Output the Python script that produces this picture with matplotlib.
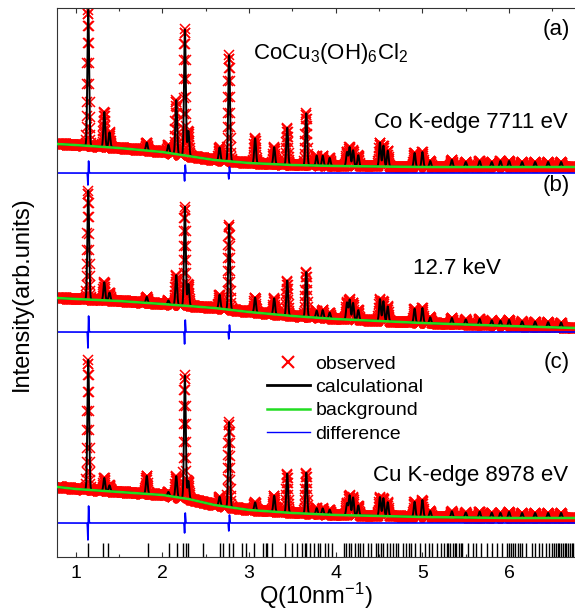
import numpy as np
import matplotlib
matplotlib.use("Agg")
import matplotlib.pyplot as plt
from matplotlib.lines import Line2D

plt.rcParams['font.family'] = ['Liberation Sans', 'DejaVu Sans']
plt.rcParams['mathtext.fontset'] = 'custom'
plt.rcParams['mathtext.rm'] = 'Liberation Sans'
plt.rcParams['mathtext.default'] = 'regular'

# background levels (arb. units) read at these Q values
q_bg = [0.79, 1.0, 1.5, 2.0, 2.3, 2.6, 3.0, 3.5, 4.0, 5.0, 6.0, 6.76]
bg_a = [413, 412, 409, 405, 401, 397, 394, 392, 391, 390, 390, 390]
bg_b = [259, 258, 256, 253, 251, 249, 245, 241, 238, 234, 231, 229]
bg_c = [70, 68, 65, 62, 58, 52, 47, 44, 42, 40, 39, 39]

# difference curve zero levels
diff0 = {'a': 384, 'b': 225, 'c': 34}

# peak positions and heights above background for each measurement
peak_q = [1.145, 1.33, 1.39, 1.82, 2.07, 2.16, 2.26, 2.30, 2.66, 2.77, 3.07, 3.29,
          3.44, 3.66, 3.78, 3.85, 3.93, 4.13, 4.16, 4.20, 4.26, 4.51, 4.55, 4.60,
          4.91, 5.00, 5.09, 5.34, 5.50, 5.66, 5.80, 5.90, 6.00, 6.15, 6.30, 6.45, 6.60]
h_a = [136, 35, 15, 8, 8, 54, 126, 25, 13, 106, 25, 17, 37, 52, 10, 10, 8, 14, 19, 16,
       11, 24, 21, 16, 14, 15, 6, 7, 5, 6, 5, 6, 6, 5, 5, 5, 5]
h_b = [109, 18, 8, 6, 4, 30, 99, 22, 14, 85, 15, 16, 35, 45, 7, 8, 6, 17, 20, 17,
       10, 22, 20, 15, 14, 15, 6, 6, 5, 6, 5, 5, 6, 5, 5, 5, 5]
h_c = [130, 13, 6, 18, 4, 21, 123, 18, 9, 85, 8, 16, 39, 41, 6, 6, 5, 12, 20, 18,
       10, 19, 18, 14, 15, 17, 6, 6, 5, 6, 5, 5, 6, 5, 5, 5, 5]

# misfit spikes in the difference curves
spike_q = [1.145, 2.26, 2.77]
spike_a = [12, 8, 6]
spike_b = [16, 12, 7]
spike_c = [17, 10, 8]

# Bragg reflection positions
bragg = [1.145, 1.318, 1.376, 1.83, 2.076, 2.165, 2.234, 2.272, 2.30, 2.465, 2.664, 2.70,
         2.77, 2.82, 2.92, 2.97, 3.06, 3.16, 3.19, 3.21, 3.27, 3.42, 3.49, 3.55, 3.61,
         3.64, 3.66, 3.70, 3.75, 3.80, 3.82, 3.88, 3.91, 3.96, 4.09, 4.12, 4.15, 4.18,
         4.22, 4.26, 4.28, 4.31, 4.37, 4.41, 4.47, 4.49, 4.52, 4.55, 4.59, 4.63, 4.66,
         4.69, 4.72, 4.78, 4.81, 4.84, 4.87, 4.91, 4.97, 5.03, 5.07, 5.11, 5.17, 5.21,
         5.25, 5.28, 5.30, 5.32, 5.35, 5.37, 5.39, 5.42, 5.44, 5.46, 5.52, 5.58, 5.62,
         5.68, 5.74, 5.80, 5.86, 5.92, 5.97, 6.00, 6.02, 6.05, 6.07, 6.10, 6.12, 6.15,
         6.20, 6.26, 6.30, 6.34, 6.38, 6.42, 6.46, 6.50, 6.52, 6.54, 6.56, 6.58, 6.60,
         6.62, 6.64, 6.66, 6.68, 6.70, 6.72, 6.74]

q = np.arange(0.79, 6.76, 0.0025)
qd = np.arange(0.79, 6.76, 0.001)
sig = 0.01
sig_d = 0.004


def profile(bg, h):
    y = np.interp(q, q_bg, bg).astype(float)
    for p, a in zip(peak_q, h):
        y += a * np.exp(-(q - p) ** 2 / (2 * sig ** 2))
    return y


def difference(z, amps):
    y = np.full_like(qd, z, dtype=float)
    for p, a in zip(spike_q, amps):
        d = (qd - p) / sig_d
        y += a * d * np.exp(-d ** 2 / 2) / 0.607
    return y


fig = plt.figure(figsize=(5.75, 6.12), dpi=100)
ax = fig.add_axes([0.0997, 0.0899, 0.9003, 0.897])

for bg, h, key, sp in [(bg_a, h_a, 'a', spike_a), (bg_b, h_b, 'b', spike_b), (bg_c, h_c, 'c', spike_c)]:
    calc = profile(bg, h)
    ax.plot(q, calc, ls='none', marker='x', color='red', ms=6.5, mew=1.1, zorder=1)
    ax.plot(q, calc, color='black', lw=1.4, zorder=2)
    ax.plot(q_bg, bg, color='#22dd22', lw=1.8, zorder=3)
    ax.plot(qd, difference(diff0[key], sp), color='blue', lw=1.2, zorder=2)

ax.vlines(bragg, 0, 13.5, color='black', lw=1.0)

ax.set_xlim(0.788, 6.76)
ax.set_ylim(0, 549)
ax.set_yticks([])
ax.set_xticks([1, 2, 3, 4, 5, 6])
ax.set_xticks(np.arange(1.5, 6.6, 1.0), minor=True)
ax.tick_params(axis='x', which='both', direction='in', top=True, labelsize=14, pad=6,
               color='#333333')
ax.tick_params(axis='x', which='major', length=3.5, width=0.8)
ax.tick_params(axis='x', which='minor', length=2, width=0.8)
for s in ['left', 'top', 'bottom']:
    ax.spines[s].set_color('#333333')
    ax.spines[s].set_linewidth(0.8)
ax.spines['right'].set_visible(False)

ax.set_xlabel('Q(10nm$^{-1}$)', fontsize=17, labelpad=-1)
ax.set_ylabel('Intensity(arb.units)', fontsize=17)
ax.yaxis.set_label_coords(-0.047, 0.479)

ax.text(3.05, 504, 'CoCu$_3$(OH)$_6$Cl$_2$', fontsize=16, va='center', ha='left')
ax.text(6.70, 528, '(a)', fontsize=16, va='center', ha='right')
ax.text(6.70, 372, '(b)', fontsize=16, va='center', ha='right')
ax.text(6.70, 194, '(c)', fontsize=16, va='center', ha='right')
ax.text(6.68, 435, 'Co K-edge 7711 eV', fontsize=16, va='center', ha='right')
ax.text(4.89, 289, '12.7 keV', fontsize=16, va='center', ha='left')
ax.text(6.68, 81, 'Cu K-edge 8978 eV', fontsize=16, va='center', ha='right')

handles = [Line2D([], [], ls='none', marker='x', color='red', ms=8, mew=1.5),
           Line2D([], [], color='black', lw=2),
           Line2D([], [], color='#22dd22', lw=1.8),
           Line2D([], [], color='blue', lw=1.0)]
labels = ['observed', 'calculational', 'background', 'difference']
ax.legend(handles, labels, loc='upper left', bbox_to_anchor=(0.405, 0.368),
          frameon=False, fontsize=14, handlelength=2.2, handletextpad=0.3,
          labelspacing=0.3, borderpad=0, borderaxespad=0)

fig.savefig('out.png', dpi=100)
